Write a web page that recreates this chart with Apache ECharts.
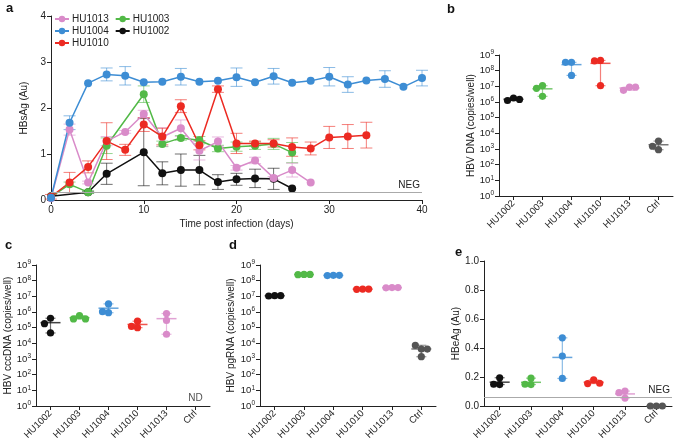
<!DOCTYPE html>
<html>
<head>
<meta charset="utf-8">
<script src="https://cdn.jsdelivr.net/npm/echarts@6/dist/echarts.min.js"></script>
<style>
  html, body { margin: 0; padding: 0; background: #fff; }
  #chart { width: 675px; height: 443px; }
</style>
</head>
<body>
<div id="chart"></div>
<script>
// 样本名与颜色
const cats = ['HU1002', 'HU1003', 'HU1004', 'HU1010', 'HU1013', 'Ctrl']
const catColors = ['#111111', '#52b947', '#3d8dd4', '#ec2a22', '#d98bc9', '#555555']

// a: HBsAg 时间曲线
const hu1004Days = [0, 2, 4, 6, 8, 10, 12, 14, 16, 18, 20, 22, 24, 26, 28, 30, 32, 34, 36, 38, 40]
const hu1004 = [0.05, 1.68, 2.54, 2.73, 2.70, 2.56, 2.57, 2.68, 2.57, 2.59, 2.67, 2.56, 2.69, 2.55, 2.59, 2.68, 2.51, 2.60, 2.63, 2.46, 2.65]
const hu1004Err = [0, 0.15, 0, 0.14, 0.2, 0, 0, 0.18, 0, 0, 0.2, 0, 0.17, 0, 0, 0.2, 0.17, 0, 0.18, 0, 0.17]

const hu1003Days = [0, 2, 4, 6, 10, 12, 14, 16, 18, 20, 22, 24, 26]
const hu1003 = [0.07, 0.34, 0.17, 1.18, 2.30, 1.22, 1.35, 1.30, 1.12, 1.16, 1.18, 1.22, 1.03]
const hu1003Err = [0, 0.05, 0.03, 0.17, 0.18, 0.06, 0.05, 0.08, 0.07, 0.1, 0.08, 0.12, 0.22]

const hu1010Days = [0, 2, 4, 6, 8, 10, 12, 14, 16, 18, 20, 22, 24, 26, 28, 30, 32, 34]
const hu1010 = [0.07, 0.38, 0.72, 1.28, 1.09, 1.64, 1.38, 2.04, 1.19, 2.41, 1.23, 1.23, 1.23, 1.15, 1.12, 1.36, 1.38, 1.41]
const hu1010Err = [0.05, 0.22, 0.13, 0.4, 0.12, 0.15, 0.18, 0.14, 0.1, 0.07, 0.22, 0.05, 0.08, 0.2, 0.14, 0.24, 0.26, 0.28]

const hu1013Days = [0, 2, 4, 6, 8, 10, 12, 14, 16, 18, 20, 22, 24, 26, 28]
const hu1013 = [0.04, 1.53, 0.38, 1.28, 1.48, 1.87, 1.37, 1.56, 1.07, 1.27, 0.70, 0.86, 0.48, 0.65, 0.38]
const hu1013Err = [0, 0.12, 0.03, 0.1, 0.03, 0.08, 0.2, 0.18, 0.2, 0.1, 0.05, 0.07, 0.03, 0.15, 0]

const hu1002Days = [0, 4, 6, 10, 12, 14, 16, 18, 20, 22, 24, 26]
const hu1002 = [0.08, 0.17, 0.57, 1.04, 0.58, 0.65, 0.65, 0.39, 0.45, 0.47, 0.46, 0.25]
const hu1002Err = [0, 0.02, 0.23, 0.73, 0.25, 0.35, 0.32, 0.16, 0.13, 0.2, 0.23, 0]

const negA = 0.17
const negE = 0.06

// b-e: 每个样本的重复值
const dnaVals = [[1.8e6, 1.25e6, 1.45e6], [1.1e7, 2.3e6, 7.5e6], [3.4e8, 5e7, 3.4e8], [4.5e8, 1.1e7, 4.2e8], [9e6, 5.6e6, 8.8e6], [3.2e3, 9e2, 1.5e3]]
const cccVals = [[4e5, 1.8e5, 4.6e4], [5.8e5, 3.6e5, 3.6e5], [3.3e6, 9e5, 1.05e6], [2.6e5, 1e5, 1.2e5], [8e5, 2.9e5, 3.8e4], []]
const pgVals = [[1.1e7, 1.05e7, 1.1e7], [2.5e8, 2.4e8, 2.5e8], [2.2e8, 2.1e8, 2.2e8], [2.9e7, 2.8e7, 2.9e7], [3.6e7, 3.5e7, 3.6e7], [4.3e3, 7.5e3, 4.3e3, 1.4e3]]
const hbeVals = [[0.195, 0.148, 0.15], [0.192, 0.148, 0.15], [0.47, 0.345, 0.19], [0.18, 0.155, 0.157], [0.103, 0.055, 0.092], [0, 0, 0]]

const font = 'Liberation Sans, Arial, Helvetica, sans-serif'
const ink = '#222'

const timeSeries = [
  { name: 'HU1002', color: '#111111', days: hu1002Days, vals: hu1002, err: hu1002Err },
  { name: 'HU1003', color: '#52b947', days: hu1003Days, vals: hu1003, err: hu1003Err },
  { name: 'HU1013', color: '#d98bc9', days: hu1013Days, vals: hu1013, err: hu1013Err },
  { name: 'HU1010', color: '#ec2a22', days: hu1010Days, vals: hu1010, err: hu1010Err },
  { name: 'HU1004', color: '#3d8dd4', days: hu1004Days, vals: hu1004, err: hu1004Err }
]

const mean = (arr) => arr.reduce((s, v) => s + v, 0) / arr.length

// 误差棒 (a)
const errSeries = (s) => ({
  name: s.name + '-err',
  type: 'custom',
  xAxisIndex: 0,
  yAxisIndex: 0,
  z: 1,
  clip: false,
  data: s.days.map((d, i) => [d, s.vals[i], s.err[i]]),
  renderItem: (params, api) => {
    const e = api.value(2)
    if (!e) return
    const x = api.value(0)
    const y = api.value(1)
    const top = api.coord([x, y + e])
    const bot = api.coord([x, y - e])
    const st = { stroke: s.color, lineWidth: 1, opacity: 0.6 }
    const w = 6
    return {
      type: 'group',
      children: [
        { type: 'line', shape: { x1: top[0], y1: top[1], x2: bot[0], y2: bot[1] }, style: st },
        { type: 'line', shape: { x1: top[0] - w, y1: top[1], x2: top[0] + w, y2: top[1] }, style: st },
        { type: 'line', shape: { x1: bot[0] - w, y1: bot[1], x2: bot[0] + w, y2: bot[1] }, style: st }
      ]
    }
  }
})

const lineSeries = (s) => ({
  name: s.name,
  type: 'line',
  xAxisIndex: 0,
  yAxisIndex: 0,
  z: 3,
  color: s.color,
  symbol: 'circle',
  symbolSize: 8,
  lineStyle: { width: 1.5 },
  data: s.days.map((d, i) => [d, s.vals[i]])
})

// 散点 + 均值 + 范围 (b-e)
const rangeSeries = (idx, values) => ({
  type: 'custom',
  xAxisIndex: idx,
  yAxisIndex: idx,
  clip: false,
  data: values.map((v, i) => [i, v.length ? mean(v) : null]).filter((d) => d[1] !== null),
  renderItem: (params, api) => {
    const i = api.value(0)
    const vals = values[i]
    const color = catColors[i]
    const m = mean(vals)
    const cm = api.coord([i, m])
    const cmin = api.coord([i, Math.min(...vals)])
    const cmax = api.coord([i, Math.max(...vals)])
    const x = cm[0]
    const st = { stroke: color, lineWidth: 1.2, opacity: 0.6 }
    const children = [
      { type: 'line', shape: { x1: x, y1: cmin[1], x2: x, y2: cmax[1] }, style: st },
      { type: 'line', shape: { x1: x - 5, y1: cmin[1], x2: x + 5, y2: cmin[1] }, style: st },
      { type: 'line', shape: { x1: x - 5, y1: cmax[1], x2: x + 5, y2: cmax[1] }, style: st },
      { type: 'line', shape: { x1: x - 10, y1: cm[1], x2: x + 10, y2: cm[1] }, style: { stroke: color, lineWidth: 1.5, opacity: 0.8 } }
    ]
    // 简单蜂群排布
    const placed = []
    vals.forEach((v) => {
      const y = api.coord([i, v])[1]
      for (const o of [0, -6, 6, -12, 12]) {
        if (placed.every((p) => Math.hypot(p[0] - o, p[1] - y) >= 6)) {
          placed.push([o, y])
          break
        }
      }
    })
    placed.forEach((p) => {
      children.push({ type: 'circle', shape: { cx: x + p[0], cy: p[1], r: 3.6 }, style: { fill: color }, z2: 5 })
    })
    return { type: 'group', children }
  }
})

const axisBase = {
  axisLine: { show: true, lineStyle: { color: ink, width: 1 } },
  axisTick: { show: true, length: 4, lineStyle: { color: ink } },
  splitLine: { show: false },
  axisLabel: { color: ink, fontSize: 10, fontFamily: font, margin: 5 },
  nameTextStyle: { color: ink, fontSize: 10, fontFamily: font }
}

const catAxis = (gridIndex) => ({
  ...axisBase,
  type: 'category',
  gridIndex,
  data: cats,
  axisTick: { ...axisBase.axisTick, alignWithLabel: true },
  axisLabel: { ...axisBase.axisLabel, rotate: 45, fontSize: 9.5, margin: 6, interval: 0 }
})

const logAxis = (gridIndex, name, nameGap) => ({
  ...axisBase,
  type: 'log',
  logBase: 10,
  gridIndex,
  min: 1,
  max: 1e9,
  name,
  nameLocation: 'middle',
  nameGap,
  axisLabel: {
    ...axisBase.axisLabel,
    formatter: (v) => '{b|10}{s|' + Math.round(Math.log10(v)) + '}',
    rich: {
      b: { fontSize: 9.5, color: ink, fontFamily: font, lineHeight: 12 },
      s: { fontSize: 6.5, color: ink, fontFamily: font, verticalAlign: 'top', lineHeight: 12 }
    }
  }
})

const letter = (text, left, top) => ({
  text, left, top,
  textStyle: { fontSize: 13, fontWeight: 'bold', color: '#111', fontFamily: font }
})

const legendRow = (data, top) => ({
  data,
  left: 54,
  top,
  itemWidth: 14,
  itemHeight: 8,
  itemGap: 6,
  padding: 0,
  textStyle: { fontSize: 10, color: ink, fontFamily: font, padding: [0, 0, 0, -2] }
})

const option = {
  animation: false,
  textStyle: { fontFamily: font },
  title: [
    letter('a', 1, -3),
    letter('b', 442, -2),
    letter('c', 0, 234),
    letter('d', 224, 234),
    letter('e', 450, 241)
  ],
  legend: [
    legendRow(['HU1013', 'HU1003'], 14),
    legendRow(['HU1004', 'HU1002'], 26),
    legendRow(['HU1010'], 38)
  ],
  grid: [
    { left: 51, top: 16, width: 371, height: 184 },
    { left: 499, top: 55, width: 174, height: 141 },
    { left: 36, top: 265, width: 174, height: 141 },
    { left: 260, top: 265, width: 176, height: 141 },
    { left: 484, top: 261, width: 188, height: 145 }
  ],
  xAxis: [
    {
      ...axisBase,
      type: 'value',
      gridIndex: 0,
      min: 0,
      max: 40,
      interval: 10,
      name: 'Time post infection (days)',
      nameLocation: 'middle',
      nameGap: 19
    },
    catAxis(1),
    catAxis(2),
    catAxis(3),
    catAxis(4)
  ],
  yAxis: [
    {
      ...axisBase,
      type: 'value',
      gridIndex: 0,
      min: 0,
      max: 4,
      interval: 1,
      name: 'HBsAg (Au)',
      nameLocation: 'middle',
      nameGap: 15
    },
    logAxis(1, 'HBV DNA (copies/well)', 22),
    logAxis(2, 'HBV cccDNA (copies/well)', 22),
    logAxis(3, 'HBV pgRNA (copies/well)', 24),
    {
      ...axisBase,
      type: 'value',
      gridIndex: 4,
      min: 0,
      max: 1,
      interval: 0.2,
      name: 'HBeAg (Au)',
      nameLocation: 'middle',
      nameGap: 23,
      axisLabel: { ...axisBase.axisLabel, formatter: (v) => v.toFixed(1) }
    }
  ],
  series: [
    ...timeSeries.map(errSeries),
    ...timeSeries.map(lineSeries),
    {
      name: 'negA',
      type: 'line',
      xAxisIndex: 0,
      yAxisIndex: 0,
      data: [],
      markLine: {
        silent: true,
        symbol: 'none',
        data: [{ yAxis: negA }],
        lineStyle: { color: '#aaa', width: 1, type: 'solid' },
        label: { position: 'insideEndTop', formatter: 'NEG', color: ink, fontSize: 10, fontFamily: font, distance: 2 }
      }
    },
    rangeSeries(1, dnaVals),
    rangeSeries(2, cccVals),
    rangeSeries(3, pgVals),
    rangeSeries(4, hbeVals),
    {
      name: 'nd',
      type: 'scatter',
      xAxisIndex: 2,
      yAxisIndex: 2,
      symbolSize: 0,
      data: [['Ctrl', 3]],
      label: { show: true, formatter: 'ND', color: ink, fontSize: 10, fontFamily: font, position: 'inside' }
    },
    {
      name: 'negE',
      type: 'line',
      xAxisIndex: 4,
      yAxisIndex: 4,
      data: [],
      markLine: {
        silent: true,
        symbol: 'none',
        data: [{ yAxis: negE }],
        lineStyle: { color: '#aaa', width: 1, type: 'solid' },
        label: { position: 'insideEndTop', formatter: 'NEG', color: ink, fontSize: 10, fontFamily: font, distance: 2 }
      }
    }
  ]
}

const myChart = echarts.init(document.getElementById('chart'))
myChart.setOption(option)
</script>
</body>
</html>
